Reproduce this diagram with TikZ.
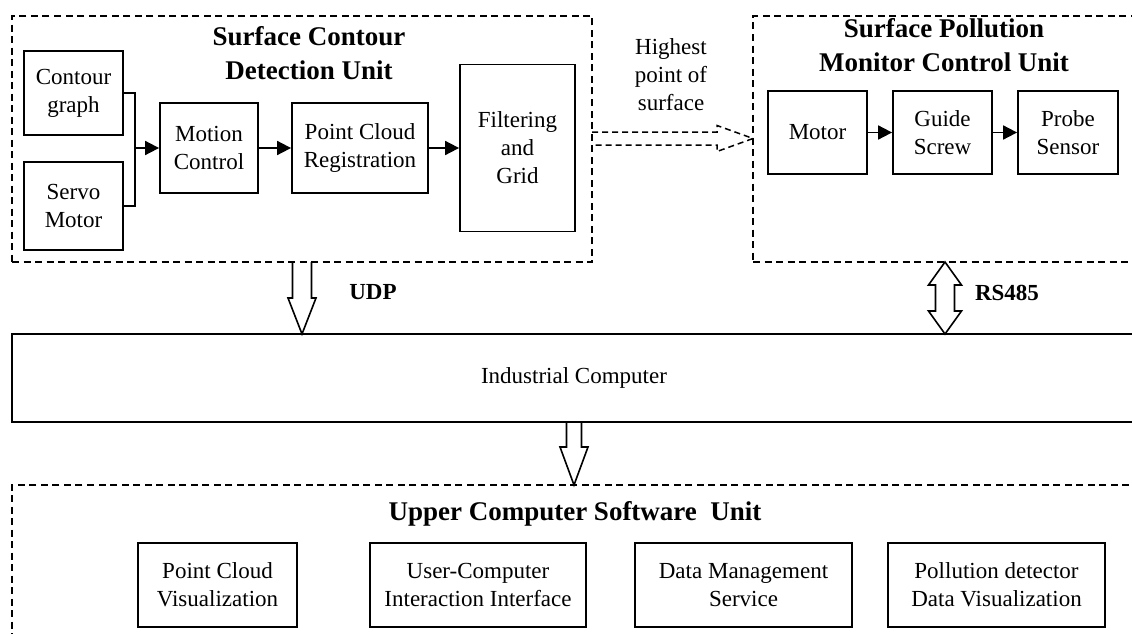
\documentclass[tikz,border=0pt]{standalone}
\usepackage{fontspec}
\setmainfont{Liberation Serif}
\usetikzlibrary{arrows.meta,calc}
\newcommand\normaltxt{\fontsize{23}{28}\selectfont}
\newcommand\titletxt{\fontsize{27}{34}\selectfont\bfseries}
\newcommand\labeltxt{\fontsize{23}{28}\selectfont\bfseries}
\begin{document}
\begin{tikzpicture}[x=1pt,y=-1pt,
  blk/.style={draw, line width=1.8pt, align=center, font=\normaltxt, inner sep=2pt},
  unit/.style={draw, line width=1.8pt, dash pattern=on 7pt off 4.5pt, inner sep=0pt},
  flow/.style={line width=1.8pt, -{Triangle[length=14pt,width=14pt]}},
  blockarrow/.style={line width=1.6pt, line join=miter},
  ttl/.style={font=\titletxt, align=center, inner sep=0pt},
  txt/.style={font=\normaltxt, align=center, inner sep=0pt}]
\useasboundingbox (0,0) rectangle (1132,634);
\clip (0,0) rectangle (1132,634);

% unit frames
\node[unit, minimum width=580pt, minimum height=246pt] (det) at (302,139) {};
\node[unit, minimum width=397pt, minimum height=246pt] (spm) at (951.5,139) {};
\node[unit, minimum width=1138pt, minimum height=175pt] (upper) at (581,572.5) {};
\node[draw, line width=1.8pt, minimum width=1138pt, minimum height=88pt] (ind) at (581,378) {};

% titles and texts
\node[ttl] (detT) at (309,53.5) {Surface Contour\\Detection Unit};
\node[ttl] (spmT) at (944,45) {Surface Pollution\\Monitor Control Unit};
\node[ttl] (upT) at (575,514) {Upper Computer Software\ \ Unit};
\node[txt] (indT) at (574,378) {Industrial Computer};
\node[txt] (high) at (671,75) {Highest\\point of\\surface};
\node[font=\labeltxt, inner sep=0pt] (udp) at (373,292) {UDP};
\node[font=\labeltxt, inner sep=0pt] (rs) at (1007,293) {RS485};

% contour detection blocks
\node[blk, minimum width=99pt, minimum height=84pt] (contour) at (73.5,93) {Contour\\graph};
\node[blk, minimum width=99pt, minimum height=88pt] (servo) at (73.5,206) {Servo\\Motor};
\node[blk, minimum width=98pt, minimum height=90pt] (motion) at (209,148) {Motion\\Control};
\node[blk, minimum width=136pt, minimum height=90pt] (pcr) at (360,148) {Point Cloud\\Registration};
\node[blk, minimum width=115pt, minimum height=167pt] (filt) at (517.5,148) {Filtering\\and\\Grid};

% pollution monitor blocks
\node[blk, minimum width=99pt, minimum height=83pt] (motor) at (817.5,132.5) {Motor};
\node[blk, minimum width=99pt, minimum height=83pt] (guide) at (942.5,132.5) {Guide\\Screw};
\node[blk, minimum width=100pt, minimum height=83pt] (probe) at (1068,132.5) {Probe\\Sensor};

% software blocks
\node[blk, minimum width=159pt, minimum height=84pt] (pcv) at (217.5,585) {Point Cloud\\Visualization};
\node[blk, minimum width=216pt, minimum height=84pt] (uci) at (478,585) {User-Computer\\Interaction Interface};
\node[blk, minimum width=217pt, minimum height=84pt] (dms) at (743.5,585) {Data Management\\Service};
\node[blk, minimum width=217pt, minimum height=84pt] (pdv) at (996.5,585) {Pollution detector\\Data Visualization};

% signal flow inside the units
\coordinate (jn) at (135,148);
\draw[line width=1.8pt] (contour.east) -| (jn);
\draw[line width=1.8pt] (servo.east) -| (jn);
\draw[flow] (jn) -- (motion.west);
\draw[flow] (motion.east) -- (pcr.west);
\draw[flow] (pcr.east) -- (pcr.east -| filt.west);
\draw[flow] (motor.east) -- (guide.west);
\draw[flow] (guide.east) -- (probe.west);

% block arrows between units
\coordinate (udpT) at (302,262);
\coordinate (udpB) at (302,334);
\draw[blockarrow] (udpT) ++(-9.5,0) -- ++(0,36) -- ++(-4.5,0) -- (udpB)
  -- ++(14,-36) -- ++(-4.5,0) -- ++(0,-36);

\coordinate (rsT) at (945,262);
\coordinate (rsB) at (945,334);
\draw[blockarrow] (rsT) -- ++(16.5,23) -- ++(-7,0) -- ++(0,26) -- ++(7,0) -- (rsB)
  -- ++(-16.5,-23) -- ++(7,0) -- ++(0,-26) -- ++(-7,0) -- cycle;

\coordinate (dnT) at (574,422);
\coordinate (dnB) at (574,485);
\draw[blockarrow] (dnT) ++(-7.5,0) -- ++(0,25) -- ++(-6.5,0) -- (dnB)
  -- ++(14,-38) -- ++(-6.5,0) -- ++(0,-25);

\coordinate (hT) at (592,138.5);
\coordinate (hB) at (753,138.5);
\draw[blockarrow, line width=1.5pt, dash pattern=on 6pt off 4pt] (hT) ++(0,-6.5) -- ++(125,0) -- ++(0,-6.5) -- (hB)
  -- ++(-36,13) -- ++(0,-6.5) -- ++(-125,0);
\end{tikzpicture}
\end{document}
